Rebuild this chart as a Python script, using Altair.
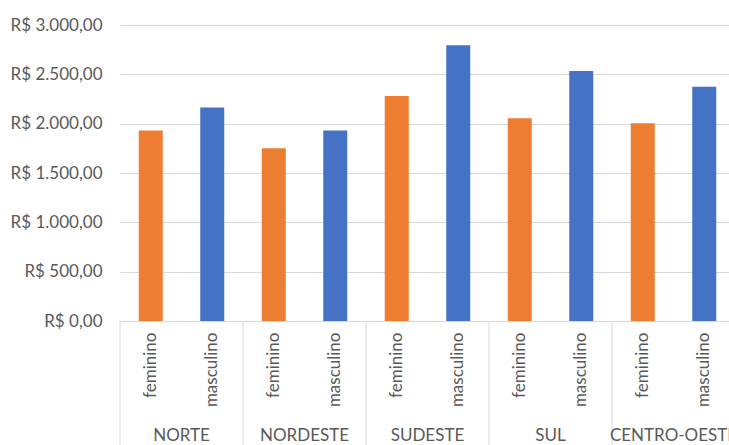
import altair as alt
import pandas as pd

regioes = ["NORTE", "NORDESTE", "SUDESTE", "SUL", "CENTRO-OESTE"]
generos = ["feminino", "masculino"]
feminino = [1930, 1750, 2280, 2055, 2005]
masculino = [2165, 1930, 2795, 2535, 2375]
y_ticks = [0, 500, 1000, 1500, 2000, 2500, 3000]

rows = []
for r, f, m in zip(regioes, feminino, masculino):
    rows.append({"regiao": r, "genero": "feminino", "valor": f, "key": r + "|feminino"})
    rows.append({"regiao": r, "genero": "masculino", "valor": m, "key": r + "|masculino"})
df = pd.DataFrame(rows)
keys = list(df["key"])
df_reg = pd.DataFrame({"regiao": regioes, "key": [r + "|feminino" for r in regioes]})

FONT = "Lato"
GRAY = "#595959"
LINE = "#d9d9d9"
FS = 17

x_scale = alt.Scale(domain=keys, paddingInner=0, paddingOuter=0, range=[0, 615])
x_axis = alt.Axis(
    title=None,
    labelExpr="split(datum.label, '|')[1]",
    labelAngle=270,
    labelAlign="right",
    labelBaseline="middle",
    ticks=False,
    domain=True,
    domainColor=LINE,
    domainWidth=1,
    grid=False,
    labelPadding=11,
    labelFont=FONT,
    labelFontSize=FS,
    labelColor=GRAY,
)

bars = alt.Chart(df).mark_bar(width=alt.RelativeBandSize(0.39)).encode(
    x=alt.X("key:N", sort=keys, scale=x_scale, axis=x_axis),
    y=alt.Y(
        "valor:Q",
        scale=alt.Scale(domain=[0, 3000], nice=False),
        axis=alt.Axis(
            title=None,
            values=y_ticks,
            labelExpr="'R$ ' + replace(replace(replace(format(datum.value, ',.2f'), ',', '_'), '.', ','), '_', '.')",
            grid=True,
            gridColor=LINE,
            gridWidth=1,
            domain=False,
            ticks=False,
            labelPadding=18,
            labelFont=FONT,
            labelFontSize=FS,
            labelColor=GRAY,
        ),
    ),
    color=alt.Color(
        "genero:N",
        scale=alt.Scale(domain=generos, range=["#ED7D31", "#4472C4"]),
        legend=None,
    ),
)

dividers = alt.Chart(df_reg).mark_rule(color=LINE, strokeWidth=1).encode(
    x=alt.X("key:N", sort=keys, scale=x_scale, axis=x_axis, bandPosition=0),
    y=alt.value(296),
    y2=alt.value(420),
)

labels = alt.Chart(df_reg).mark_text(
    font=FONT, fontSize=FS, color=GRAY, baseline="middle", align="center"
).encode(
    x=alt.X("key:N", sort=keys, scale=x_scale, axis=x_axis, bandPosition=1),
    y=alt.value(411),
    text="regiao:N",
)

chart = (
    alt.layer(bars, dividers, labels)
    .properties(
        width=609,
        height=296,
        autosize=alt.AutoSizeParams(type="none"),
        padding={"left": 120, "top": 25, "right": 0, "bottom": 124},
        background="white",
    )
    .configure_view(stroke=None)
)

chart.save("out.html", embed_options={"renderer": "svg", "actions": False})
